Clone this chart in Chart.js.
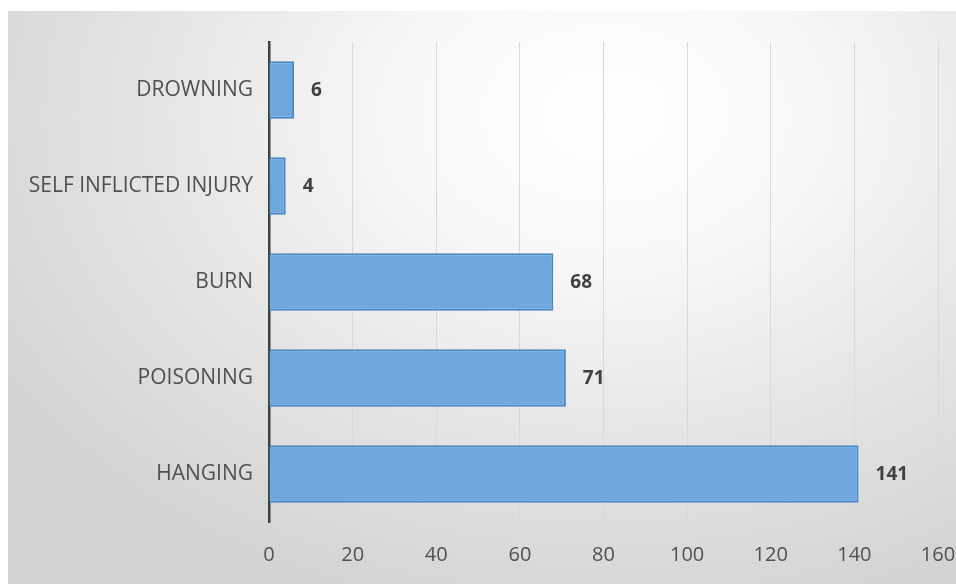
<!DOCTYPE html>
<html>
<head>
<meta charset="utf-8">
<script src="https://cdn.jsdelivr.net/npm/chart.js@4"></script>
<style>
  html, body { margin: 0; padding: 0; background: #ffffff; }
  #wrap {
    position: absolute; left: 8px; top: 11px; width: 948px; height: 573px;
    background: radial-gradient(ellipse 75% 90% at 63% 18%, #ffffff 0%, #f7f7f7 30%, #e4e4e4 65%, #d3d3d3 100%);
  }
  canvas { display: block; }
</style>
</head>
<body>
<div id="wrap"><canvas id="c" width="948" height="573"></canvas></div>
<script>
const categories = ["DROWNING", "SELF INFLICTED INJURY", "BURN", "POISONING", "HANGING"];
const values = [6, 4, 68, 71, 141];
const xTicks = [0, 20, 40, 60, 80, 100, 120, 140, 160];

const FONT = "'Open Sans', sans-serif";

const valueLabels = {
  id: 'valueLabels',
  afterDatasetsDraw(chart) {
    const ctx = chart.ctx;
    const meta = chart.getDatasetMeta(0);
    ctx.save();
    ctx.font = "bold 19px " + FONT;
    ctx.fillStyle = "#404040";
    ctx.textAlign = "left";
    ctx.textBaseline = "middle";
    meta.data.forEach((bar, i) => {
      ctx.fillText(String(values[i]), bar.x + 17, bar.y + 1);
    });
    ctx.restore();
  }
};

new Chart(document.getElementById('c'), {
  type: 'bar',
  data: {
    labels: categories,
    datasets: [{
      data: values,
      backgroundColor: '#6fa8dc',
      borderColor: '#4b87c8',
      borderWidth: 2,
      borderSkipped: 'left',
      categoryPercentage: 0.6,
      barPercentage: 1.0
    }]
  },
  options: {
    indexAxis: 'y',
    responsive: false,
    animation: false,
    devicePixelRatio: 1,
    layout: { padding: { left: 0, right: 18, top: 31, bottom: 0 } },
    plugins: { legend: { display: false }, tooltip: { enabled: false } },
    scales: {
      x: {
        min: 0, max: 160,
        afterBuildTicks(scale) { scale.ticks = xTicks.map(v => ({ value: v })); },
        afterFit(scale) { scale.height = 62; scale.paddingRight = 0; scale.paddingLeft = 0; },
        grid: { color: '#d9d9d9', lineWidth: 1, tickLength: 0, drawTicks: false },
        border: { display: false },
        ticks: { color: '#505050', font: { family: FONT, size: 20 }, padding: 21, maxRotation: 0 }
      },
      y: {
        afterFit(scale) { scale.width = 261; },
        grid: { display: false, drawTicks: false, tickLength: 0 },
        border: { display: true, color: '#404040', width: 2.5 },
        ticks: { color: '#505050', font: { family: FONT, size: 21 }, padding: 16 }
      }
    }
  },
  plugins: [valueLabels]
});
</script>
</body>
</html>
